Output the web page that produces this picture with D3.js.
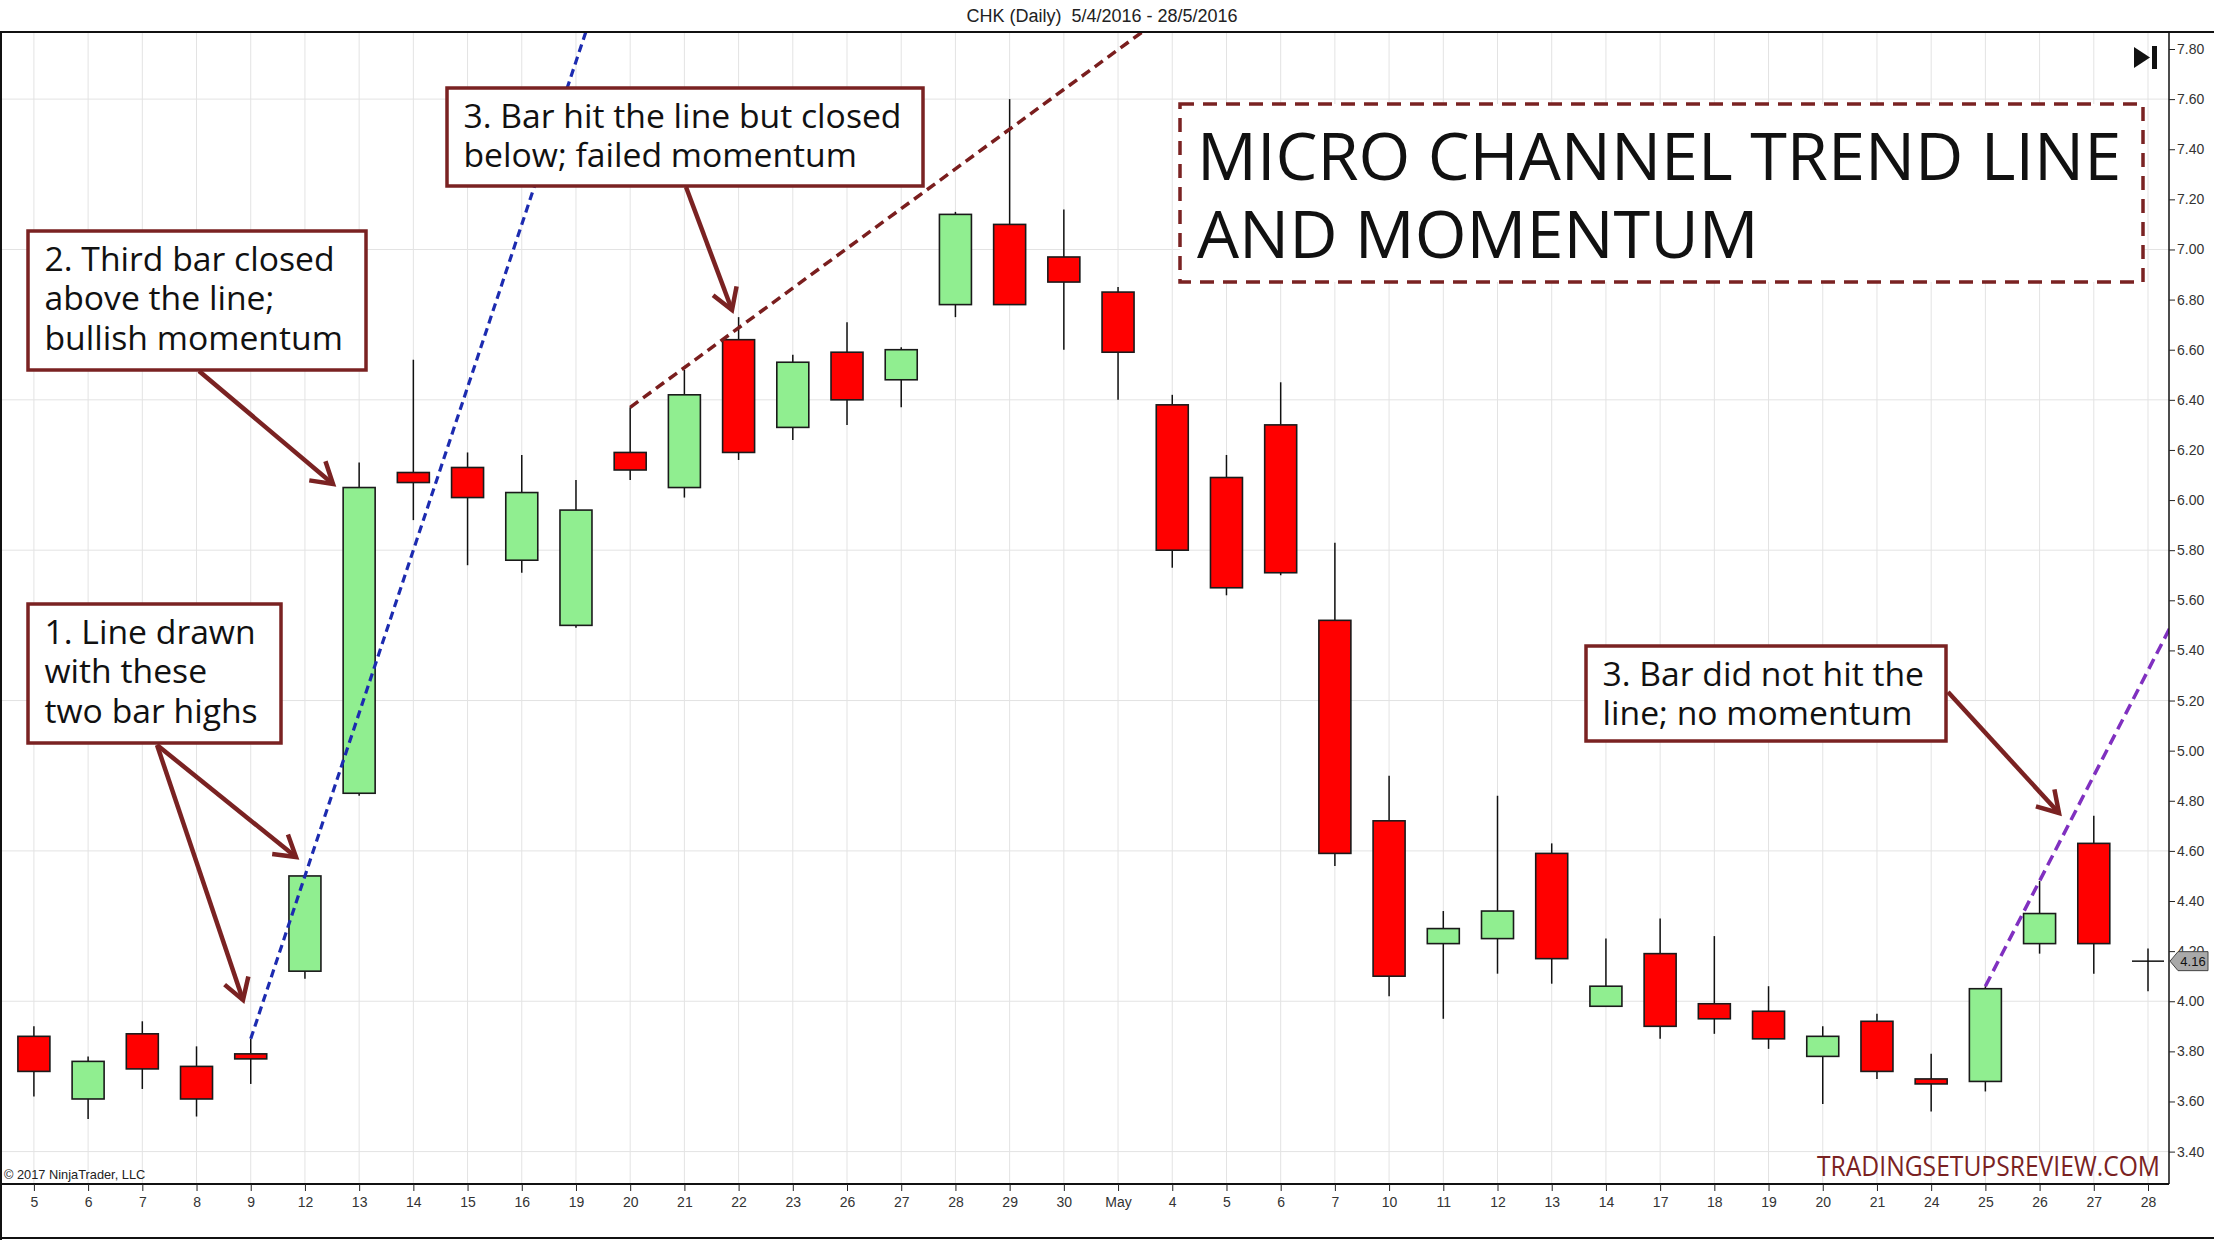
<!DOCTYPE html>
<html><head><meta charset="utf-8">
<script src="https://cdn.jsdelivr.net/npm/d3@7"></script>
<style>html,body{margin:0;padding:0;background:#fff;} svg{display:block}</style>
</head><body>
<svg id="c" width="2214" height="1240"></svg>
<script>
// ---------- data ----------
const labels = ["5","6","7","8","9","12","13","14","15","16","19","20","21","22","23","26","27","28","29","30","May","4","5","6","7","10","11","12","13","14","17","18","19","20","21","24","25","26","27","28"];
const open  = [3.86,3.61,3.87,3.74,3.79,4.12,4.83,6.11,6.13,5.76,5.50,6.19,6.05,6.64,6.29,6.59,6.48,6.78,7.10,6.97,6.83,6.38,6.09,6.30,5.52,4.72,4.23,4.25,4.59,3.98,4.19,3.99,3.96,3.78,3.92,3.69,3.68,4.23,4.63,4.16];
const high  = [3.90,3.78,3.92,3.82,3.85,4.50,6.15,6.56,6.19,6.18,6.08,6.37,6.52,6.73,6.58,6.71,6.61,7.15,7.60,7.16,6.85,6.42,6.18,6.47,5.83,4.90,4.36,4.82,4.63,4.25,4.33,4.26,4.06,3.90,3.95,3.79,4.06,4.48,4.74,4.21];
const low   = [3.62,3.53,3.65,3.54,3.67,4.09,4.82,5.92,5.74,5.71,5.49,6.08,6.01,6.16,6.24,6.30,6.37,6.73,6.78,6.60,6.40,5.73,5.62,5.70,4.54,4.02,3.93,4.11,4.07,3.98,3.85,3.87,3.81,3.59,3.69,3.56,3.64,4.19,4.11,4.04];
const close = [3.72,3.76,3.73,3.61,3.77,4.50,6.05,6.07,6.01,6.03,5.96,6.12,6.42,6.19,6.55,6.40,6.60,7.14,6.78,6.87,6.59,5.80,5.65,5.71,4.59,4.10,4.29,4.36,4.17,4.06,3.90,3.93,3.85,3.86,3.72,3.67,4.05,4.35,4.23,4.16];
const yTickValues = [3.40,3.60,3.80,4.00,4.20,4.40,4.60,4.80,5.00,5.20,5.40,5.60,5.80,6.00,6.20,6.40,6.60,6.80,7.00,7.20,7.40,7.60,7.80];
const yGridValues = [3.40,4.00,4.60,5.20,5.80,6.40,7.00,7.60];
// trend lines: two anchor points each (bar index, price)
const blueLinePts   = [[4,3.85],[5,4.50]];
const maroonLinePts = [[11,6.37],[18,7.48]];
const purpleLinePts = [[36,4.06],[37,4.48]];
const headerText = "CHK (Daily)  5/4/2016 - 28/5/2016";
const titleLines = ["MICRO CHANNEL TREND LINE","AND MOMENTUM"];
const note1 = ["1. Line drawn","with these","two bar highs"];
const note2 = ["2. Third bar closed","above the line;","bullish momentum"];
const note3a = ["3. Bar hit the line but closed","below; failed momentum"];
const note3b = ["3. Bar did not hit the","line; no momentum"];

// ---------- layout ----------
const W = 2214, H = 1240;
const P = {left:0, right:2169, top:32, bottom:1184};
const maroon = "#7a2222";
const svg = d3.select("#c");
const n = labels.length;
const x = d3.scaleLinear().domain([0, n-1]).range([33.9, 2148]);
const y = d3.scaleLinear().domain([3.40, 7.80]).range([1151.6, 49]);

svg.append("rect").attr("width",W).attr("height",H).attr("fill","#fff");
svg.append("defs").append("clipPath").attr("id","plotclip")
  .append("rect").attr("x",P.left).attr("y",P.top).attr("width",P.right-P.left).attr("height",P.bottom-P.top);

// grid
const grid = svg.append("g");
grid.selectAll("line.v").data(d3.range(n)).join("line")
  .attr("x1",i=>x(i)).attr("x2",i=>x(i)).attr("y1",P.top).attr("y2",P.bottom)
  .attr("stroke","#e3e3e3").attr("stroke-width",1);
grid.selectAll("line.h").data(yGridValues).join("line")
  .attr("x1",P.left).attr("x2",P.right).attr("y1",d=>y(d)).attr("y2",d=>y(d))
  .attr("stroke","#e3e3e3").attr("stroke-width",1);

// header
svg.append("text").attr("x",1102).attr("y",22).attr("text-anchor","middle")
  .attr("font-family","Liberation Sans, Arial, sans-serif").attr("font-size",18)
  .attr("fill","#222").style("white-space","pre").text(headerText);

// candles
const cg = svg.append("g").attr("clip-path","url(#plotclip)");
const bw = 32;
cg.selectAll("line.wick").data(d3.range(n)).join("line")
  .attr("x1",i=>x(i)).attr("x2",i=>x(i)).attr("y1",i=>y(high[i])).attr("y2",i=>y(low[i]))
  .attr("stroke","#111").attr("stroke-width",1.5);
const bodies = d3.range(n).filter(i=>open[i]!==close[i]);
cg.selectAll("rect.body").data(bodies).join("rect")
  .attr("x",i=>x(i)-bw/2).attr("width",bw)
  .attr("y",i=>y(Math.max(open[i],close[i])))
  .attr("height",i=>Math.max(1,Math.abs(y(open[i])-y(close[i]))))
  .attr("fill",i=>close[i]>open[i]?"#90ee90":"#ff0000")
  .attr("stroke","#1a1a1a").attr("stroke-width",1.6);
const dojis = d3.range(n).filter(i=>open[i]===close[i]);
cg.selectAll("line.doji").data(dojis).join("line")
  .attr("x1",i=>x(i)-bw/2).attr("x2",i=>x(i)+bw/2).attr("y1",i=>y(close[i])).attr("y2",i=>y(close[i]))
  .attr("stroke","#111").attr("stroke-width",1.5);

// trend lines
function extLine(pts, iEnd){
  const [[i1,p1],[i2,p2]] = pts; const s = (p2-p1)/(i2-i1);
  return [[x(i1),y(p1)],[x(iEnd),y(p1+s*(iEnd-i1))]];
}
const lg = svg.append("g").attr("clip-path","url(#plotclip)");
[[blueLinePts,14,"#1c2bb0","8,5",3.2],[maroonLinePts,24,"#7a1e1e","10,6",3.5],[purpleLinePts,42,"#8030c0","11,6",3.5]]
 .forEach(([pts,e,col,da,w])=>{
  const L = extLine(pts,e);
  lg.append("line").attr("x1",L[0][0]).attr("y1",L[0][1]).attr("x2",L[1][0]).attr("y2",L[1][1])
    .attr("stroke",col).attr("stroke-width",w).attr("stroke-dasharray",da);
 });

// axes frame
svg.append("line").attr("x1",0).attr("x2",W).attr("y1",P.top).attr("y2",P.top).attr("stroke","#111").attr("stroke-width",2);
svg.append("line").attr("x1",1).attr("x2",1).attr("y1",P.top).attr("y2",H).attr("stroke","#111").attr("stroke-width",2);
svg.append("line").attr("x1",0).attr("x2",W).attr("y1",H-2).attr("y2",H-2).attr("stroke","#111").attr("stroke-width",2);

const xAxis = d3.axisBottom(x).tickValues(d3.range(n)).tickFormat(i=>labels[i]).tickSize(7).tickPadding(6);
const xa = svg.append("g").attr("transform",`translate(0,${P.bottom})`).call(xAxis);
xa.select(".domain").attr("d",`M${P.left},0H${P.right}`).attr("stroke","#111").attr("stroke-width",2);
xa.selectAll("text").attr("font-family","Liberation Sans, Arial, sans-serif").attr("font-size",14).attr("fill","#333");
xa.selectAll(".tick line").attr("stroke","#222");

const yAxis = d3.axisRight(y).tickValues(yTickValues).tickFormat(d3.format(".2f")).tickSize(6).tickPadding(2);
const ya = svg.append("g").attr("transform",`translate(${P.right},0)`).call(yAxis);
ya.select(".domain").attr("d",`M0,${P.top}V${P.bottom}`).attr("stroke","#111").attr("stroke-width",1.5);
ya.selectAll("text").attr("font-family","Liberation Sans, Arial, sans-serif").attr("font-size",14).attr("fill","#333");
ya.selectAll(".tick line").attr("stroke","#222");

// price marker
const lastY = y(close[n-1]);
svg.append("path").attr("d",`M${P.right+1},${lastY} L${P.right+9},${lastY-9.5} L${P.right+39},${lastY-9.5} L${P.right+39},${lastY+9.5} L${P.right+9},${lastY+9.5} Z`)
  .attr("fill","#a9a9a9").attr("stroke","#444").attr("stroke-width",1);
svg.append("text").attr("x",P.right+24).attr("y",lastY+5).attr("text-anchor","middle")
  .attr("font-family","Liberation Sans, Arial, sans-serif").attr("font-size",13).attr("fill","#111")
  .text(d3.format(".2f")(close[n-1]));

// play-to-end icon
svg.append("path").attr("d","M2134,47 L2150,57.5 L2134,68 Z").attr("fill","#111");
svg.append("rect").attr("x",2152).attr("y",46).attr("width",5).attr("height",23).attr("fill","#111");

// footer texts
svg.append("text").attr("x",4).attr("y",1179).attr("font-family","Liberation Sans, Arial, sans-serif")
  .attr("font-size",12.8).attr("fill","#222").text("© 2017 NinjaTrader, LLC");
svg.append("text").attr("x",2160).attr("y",1176).attr("text-anchor","end").attr("font-family","Open Sans, sans-serif")
  .attr("font-size",27).attr("fill",maroon).attr("textLength",343).attr("lengthAdjust","spacingAndGlyphs")
  .text("TRADINGSETUPSREVIEW.COM");

// multi-line text helper (one text element with tspans)
function multiText(lines, tx, ty, size, lh){
  const t = svg.append("text").attr("x",tx).attr("y",ty)
    .attr("font-family","Open Sans, sans-serif").attr("font-size",size).attr("fill","#111");
  lines.forEach((s,k)=>t.append("tspan").attr("x",tx).attr("dy",k===0?0:lh).text(s));
}

// title box
svg.append("rect").attr("x",1180).attr("y",104).attr("width",963).attr("height",178)
  .attr("fill","#fff").attr("stroke",maroon).attr("stroke-width",3.5).attr("stroke-dasharray","14,9");
multiText(titleLines, 1197, 180, 66.6, 78);

// annotation boxes
function note(lines, bx, by, bwid, bh){
  svg.append("rect").attr("x",bx).attr("y",by).attr("width",bwid).attr("height",bh)
    .attr("fill","#fff").attr("stroke",maroon).attr("stroke-width",3.5);
  multiText(lines, bx+16.5, by+39.5, 33.7, 39.5);
}
note(note1, 28, 604, 253, 139);
note(note2, 28, 231, 338, 139);
note(note3a, 447, 88, 476, 98);
note(note3b, 1586, 646, 360, 95);

// arrows
function arrow(x1,y1,x2,y2){
  const a = Math.atan2(y2-y1,x2-x1), L=24, h=0.55;
  svg.append("line").attr("x1",x1).attr("y1",y1).attr("x2",x2).attr("y2",y2)
    .attr("stroke",maroon).attr("stroke-width",4.5);
  svg.append("path").attr("d",`M${x2-L*Math.cos(a-h)},${y2-L*Math.sin(a-h)} L${x2},${y2} L${x2-L*Math.cos(a+h)},${y2-L*Math.sin(a+h)}`)
    .attr("fill","none").attr("stroke",maroon).attr("stroke-width",4.5).attr("stroke-linejoin","miter");
}
arrow(157,745,243,1000);
arrow(157,745,296,857);
arrow(199,371,333,484);
arrow(686,187,732,310);
arrow(1948,692,2059,813);
</script>
</body></html>
